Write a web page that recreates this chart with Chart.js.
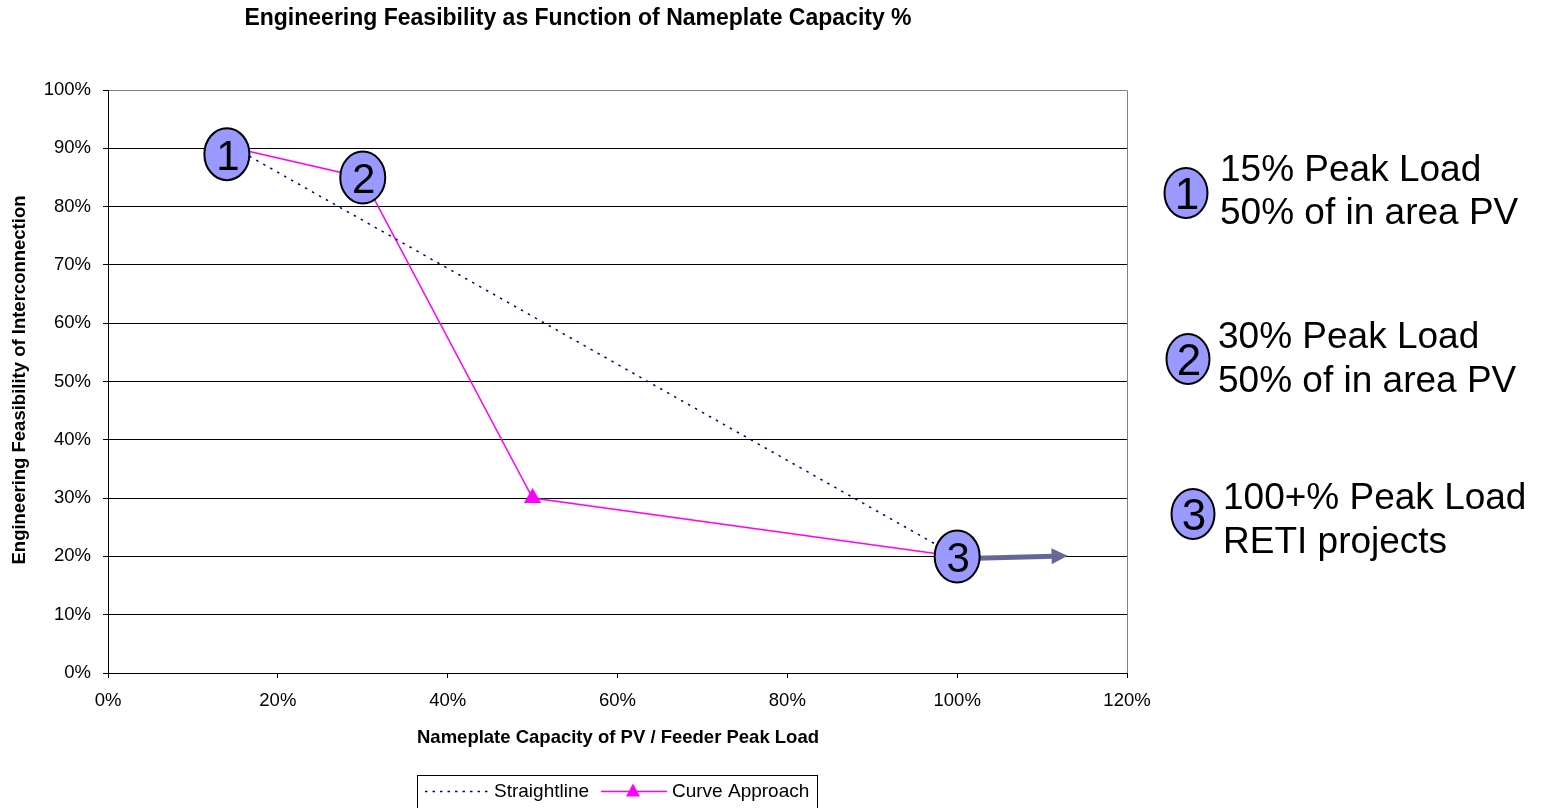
<!DOCTYPE html>
<html>
<head>
<meta charset="utf-8">
<script src="https://cdn.jsdelivr.net/npm/chart.js@4/dist/chart.umd.min.js"></script>
<style>
  html, body { margin: 0; padding: 0; background: #fff; overflow: hidden; }
  #wrap { position: relative; width: 1549px; height: 808px; }
</style>
</head>
<body>
<div id="wrap"><canvas id="c" width="1549" height="808"></canvas></div>
<script>
// Series values (x = nameplate capacity %, y = feasibility %)
const straightX = [15, 100];
const straightY = [90, 20];
const curveX = [15, 30, 50, 100];
const curveY = [90, 85, 30, 20];

// Arrow continuing past 100 %
const arrowX = [100, 113];
const arrowY = [19.6, 20.1];

// Numbered badges on the chart
const badgeX = [14, 30, 100];
const badgeY = [89, 85, 20];
const badgeLabels = ['1', '2', '3'];

// Key text beside the plot
const keyLines = [
  ['15% Peak Load', '50% of in area PV'],
  ['30% Peak Load', '50% of in area PV'],
  ['100+% Peak Load', 'RETI projects']
];

// Tick values
const xTicks = [0, 20, 40, 60, 80, 100, 120];
const yTicks = [0, 10, 20, 30, 40, 50, 60, 70, 80, 90, 100];

const titleText = 'Engineering Feasibility as Function of Nameplate Capacity %';
const xTitle = 'Nameplate Capacity of PV / Feeder Peak Load';
const yTitle = 'Engineering Feasibility of Interconnection';
const seriesNames = ['Straightline', 'Curve Approach'];

const FONT = '"Liberation Sans", Arial, sans-serif';
const BADGE_FILL = '#9999FF';
const ARROW_COLOR = '#666699';
const NAVY = '#000080';
const MAGENTA = '#FF00FF';

function zip(xs, ys) { return xs.map((x, i) => ({ x: x, y: ys[i] })); }

function badge(ctx, cx, cy, rx, ry, label, px) {
  ctx.save();
  ctx.beginPath();
  ctx.ellipse(cx, cy, rx, ry, 0, 0, Math.PI * 2);
  ctx.fillStyle = BADGE_FILL;
  ctx.fill();
  ctx.lineWidth = 2;
  ctx.strokeStyle = '#000';
  ctx.stroke();
  ctx.fillStyle = '#000';
  ctx.font = px + 'px ' + FONT;
  ctx.textAlign = 'center';
  ctx.textBaseline = 'alphabetic';
  ctx.fillText(label, cx + 1, cy + px * 0.37);
  ctx.restore();
}

const overlay = {
  id: 'overlay',
  afterDatasetsDraw(chart) {
    const ctx = chart.ctx;
    const sx = chart.scales.x, sy = chart.scales.y;

    // Arrow shaft and head
    const x0 = sx.getPixelForValue(arrowX[0]), y0 = sy.getPixelForValue(arrowY[0]);
    const x1 = sx.getPixelForValue(arrowX[1]), y1 = sy.getPixelForValue(arrowY[1]);
    const ang = Math.atan2(y1 - y0, x1 - x0);
    const headLen = 16, headHalf = 8;
    const bx = x1 - Math.cos(ang) * headLen, by = y1 - Math.sin(ang) * headLen;
    ctx.save();
    ctx.strokeStyle = ARROW_COLOR;
    ctx.fillStyle = ARROW_COLOR;
    ctx.lineWidth = 5;
    ctx.beginPath();
    ctx.moveTo(x0, y0);
    ctx.lineTo(bx + Math.cos(ang) * 2, by + Math.sin(ang) * 2);
    ctx.stroke();
    ctx.beginPath();
    ctx.moveTo(x1, y1);
    ctx.lineTo(bx - Math.sin(ang) * headHalf, by + Math.cos(ang) * headHalf);
    ctx.lineTo(bx + Math.sin(ang) * headHalf, by - Math.cos(ang) * headHalf);
    ctx.closePath();
    ctx.fill();
    ctx.restore();

    // Numbered badges
    badgeX.forEach((v, i) => {
      badge(ctx, sx.getPixelForValue(v), sy.getPixelForValue(badgeY[i]), 22.5, 26, badgeLabels[i], 42);
    });
  },
  afterDraw(chart) {
    const ctx = chart.ctx;
    const area = chart.chartArea;
    ctx.save();

    // Right frame
    ctx.strokeStyle = '#808080';
    ctx.lineWidth = 1;
    ctx.beginPath();
    ctx.moveTo(Math.round(area.right) + 0.5, Math.round(area.top) + 0.5);
    ctx.lineTo(Math.round(area.right) + 0.5, Math.round(area.bottom));
    ctx.stroke();

    // Title
    ctx.fillStyle = '#000';
    ctx.textAlign = 'center';
    ctx.textBaseline = 'middle';
    ctx.font = 'bold 23px ' + FONT;
    ctx.fillText(titleText, 578, 19);

    // Axis titles
    ctx.font = 'bold 18.5px ' + FONT;
    ctx.fillText(xTitle, 618, 738);
    ctx.save();
    ctx.translate(20, 380);
    ctx.rotate(-Math.PI / 2);
    ctx.fillText(yTitle, 0, 0);
    ctx.restore();

    // Key beside the plot
    const keyPos = [
      { cx: 1186, cy: 193, tx: 1220, y1: 168, y2: 211 },
      { cx: 1188, cy: 359, tx: 1218, y1: 335, y2: 379 },
      { cx: 1193, cy: 514, tx: 1223, y1: 496, y2: 540 }
    ];
    keyPos.forEach((p, i) => {
      badge(ctx, p.cx, p.cy, 21.5, 25, badgeLabels[i], 44);
      ctx.fillStyle = '#000';
      ctx.font = '37px ' + FONT;
      ctx.textAlign = 'left';
      ctx.textBaseline = 'alphabetic';
      ctx.fillText(keyLines[i][0], p.tx, p.y1 + 13);
      ctx.fillText(keyLines[i][1], p.tx, p.y2 + 13);
    });

    // Legend box
    ctx.strokeStyle = '#000';
    ctx.lineWidth = 1;
    ctx.strokeRect(417.5, 775.5, 400, 40);
    const ly = 791.5;
    ctx.strokeStyle = NAVY;
    ctx.lineWidth = 1.5;
    ctx.setLineDash([2.5, 5]);
    ctx.beginPath();
    ctx.moveTo(425, ly);
    ctx.lineTo(488, ly);
    ctx.stroke();
    ctx.setLineDash([]);
    ctx.strokeStyle = MAGENTA;
    ctx.beginPath();
    ctx.moveTo(601, ly);
    ctx.lineTo(667, ly);
    ctx.stroke();
    ctx.fillStyle = MAGENTA;
    ctx.beginPath();
    ctx.moveTo(633, ly - 8);
    ctx.lineTo(640, ly + 5);
    ctx.lineTo(626, ly + 5);
    ctx.closePath();
    ctx.fill();
    ctx.fillStyle = '#000';
    ctx.font = '19px ' + FONT;
    ctx.textAlign = 'left';
    ctx.textBaseline = 'middle';
    ctx.fillText(seriesNames[0], 494, ly);
    ctx.fillText(seriesNames[1], 672, ly);
    ctx.restore();
  }
};

new Chart(document.getElementById('c'), {
  type: 'line',
  data: {
    datasets: [
      {
        label: seriesNames[0],
        data: zip(straightX, straightY),
        borderColor: NAVY,
        borderWidth: 1.5,
        borderDash: [2.5, 5.5],
        pointRadius: 0,
        fill: false,
        tension: 0
      },
      {
        label: seriesNames[1],
        data: zip(curveX, curveY),
        borderColor: MAGENTA,
        backgroundColor: MAGENTA,
        borderWidth: 1.5,
        pointStyle: 'triangle',
        pointRadius: 10,
        pointBorderWidth: 0,
        fill: false,
        tension: 0
      }
    ]
  },
  options: {
    responsive: false,
    animation: false,
    devicePixelRatio: 1,
    layout: { padding: { left: 0, top: 90, right: 422, bottom: 0 } },
    plugins: {
      legend: { display: false },
      title: { display: false },
      tooltip: { enabled: false }
    },
    scales: {
      x: {
        type: 'linear',
        min: 0,
        max: 120,
        afterFit(scale) { scale.height = 135; },
        afterBuildTicks(scale) { scale.ticks = xTicks.map(v => ({ value: v })); },
        grid: { drawOnChartArea: false, drawTicks: true, tickLength: 5, color: '#000', tickColor: '#000' },
        border: { display: true, color: '#000', width: 1 },
        ticks: {
          color: '#000',
          font: { family: FONT, size: 18.5 },
          padding: 12,
          maxRotation: 0,
          callback: v => v + '%'
        }
      },
      y: {
        type: 'linear',
        min: 0,
        max: 100,
        afterFit(scale) { scale.width = 108; },
        afterBuildTicks(scale) { scale.ticks = yTicks.map(v => ({ value: v })); },
        grid: {
          drawOnChartArea: true,
          drawTicks: true,
          tickLength: 5,
          color: ctx => (ctx.tick && ctx.tick.value === 100 ? '#808080' : '#000'),
          tickColor: '#000'
        },
        border: { display: true, color: '#000', width: 1 },
        ticks: {
          color: '#000',
          font: { family: FONT, size: 18.5 },
          padding: 12,
          callback: v => v + '%'
        }
      }
    }
  },
  plugins: [overlay]
});
</script>
</body>
</html>
